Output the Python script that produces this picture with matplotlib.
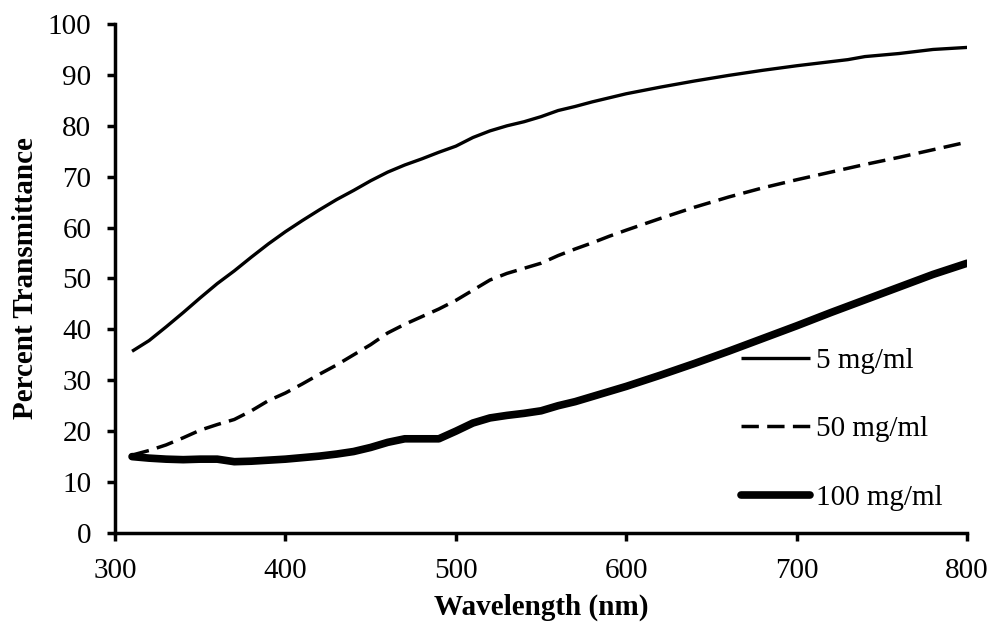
import matplotlib
matplotlib.use("Agg")
import matplotlib.pyplot as plt

wl_5 = [310, 320, 330, 340, 350, 360, 370, 380, 390, 400, 410, 420, 430, 440, 450, 460, 470, 480, 490, 500,
        510, 520, 530, 540, 550, 560, 570, 580, 590, 600, 620, 640, 660, 680, 700, 720, 730, 740, 760, 780, 800]
t_5 = [35.7, 37.8, 40.5, 43.3, 46.2, 49.0, 51.5, 54.2, 56.8, 59.2, 61.4, 63.5, 65.5, 67.3, 69.2, 70.9, 72.3, 73.5, 74.8, 76.0,
       77.7, 79.0, 80.0, 80.8, 81.8, 83.0, 83.8, 84.7, 85.5, 86.3, 87.6, 88.8, 89.9, 90.9, 91.8, 92.6, 93.0, 93.6, 94.2, 95.0, 95.4]

wl_50 = [310, 320, 330, 340, 350, 360, 370, 380, 390, 400, 410, 420, 430, 440, 450, 460, 470, 480, 490, 500,
         510, 520, 530, 540, 550, 560, 570, 580, 590, 600, 620, 640, 660, 680, 700, 720, 740, 760, 780, 800]
t_50 = [15.3, 16.2, 17.3, 18.7, 20.2, 21.3, 22.3, 24.0, 26.0, 27.5, 29.3, 31.2, 33.0, 35.0, 37.0, 39.3, 41.0, 42.5, 44.0, 45.7,
        47.7, 49.7, 51.0, 52.0, 53.0, 54.5, 55.8, 57.0, 58.3, 59.5, 61.8, 64.0, 66.0, 67.8, 69.4, 70.9, 72.4, 73.8, 75.3, 76.8]

wl_100 = [310, 320, 330, 340, 350, 360, 370, 380, 390, 400, 410, 420, 430, 440, 450, 460, 470, 480, 490, 500,
          510, 520, 530, 540, 550, 560, 570, 580, 590, 600, 620, 640, 660, 680, 700, 720, 740, 760, 780, 800]
t_100 = [15.0, 14.7, 14.5, 14.4, 14.5, 14.5, 14.0, 14.1, 14.3, 14.5, 14.8, 15.1, 15.5, 16.0, 16.8, 17.8, 18.5, 18.5, 18.5, 20.0,
         21.6, 22.6, 23.1, 23.5, 24.0, 25.0, 25.8, 26.8, 27.8, 28.8, 31.0, 33.3, 35.7, 38.2, 40.7, 43.3, 45.8, 48.3, 50.8, 53.0]

labels = ["5 mg/ml", "50 mg/ml", "100 mg/ml"]
x_label = "Wavelength (nm)"
y_label = "Percent Transmittance"

plt.rcParams['font.family'] = ['Liberation Serif', 'DejaVu Serif']

fig = plt.figure(figsize=(9.95, 6.27), dpi=100)
ax = fig.add_axes([0.1156, 0.15, 0.8564, 0.8117])

ax.plot(wl_5, t_5, color='black', lw=2.4, label=labels[0], solid_capstyle='butt', solid_joinstyle='round')
ax.plot(wl_50, t_50, color='black', lw=2.5, dashes=(5.0, 2.4), label=labels[1])
ax.plot(wl_100, t_100, color='black', lw=5.5, label=labels[2], solid_capstyle='round', solid_joinstyle='round')

ax.set_xlim(300, 800)
ax.set_ylim(0, 100)
ax.set_xticks(range(300, 801, 100))
ax.set_yticks(range(0, 101, 10))
for s in ['top', 'right']:
    ax.spines[s].set_visible(False)
for s in ['left', 'bottom']:
    ax.spines[s].set_linewidth(2.5)
ax.tick_params(axis='both', direction='out', length=6, width=2.5, labelsize=21, colors='black')
ax.tick_params(axis='y', pad=11)
ax.tick_params(axis='x', pad=12)

ax.set_xlabel(x_label, fontsize=21, fontweight='bold', labelpad=7)
ax.set_ylabel(y_label, fontsize=21, fontweight='bold', labelpad=6)

leg = ax.legend(loc='upper left', bbox_to_anchor=(0.721, 0.387), frameon=False, fontsize=21,
                handlelength=2.35, handletextpad=0.22, labelspacing=1.44, borderaxespad=0)

fig.savefig('out.png', dpi=100)
